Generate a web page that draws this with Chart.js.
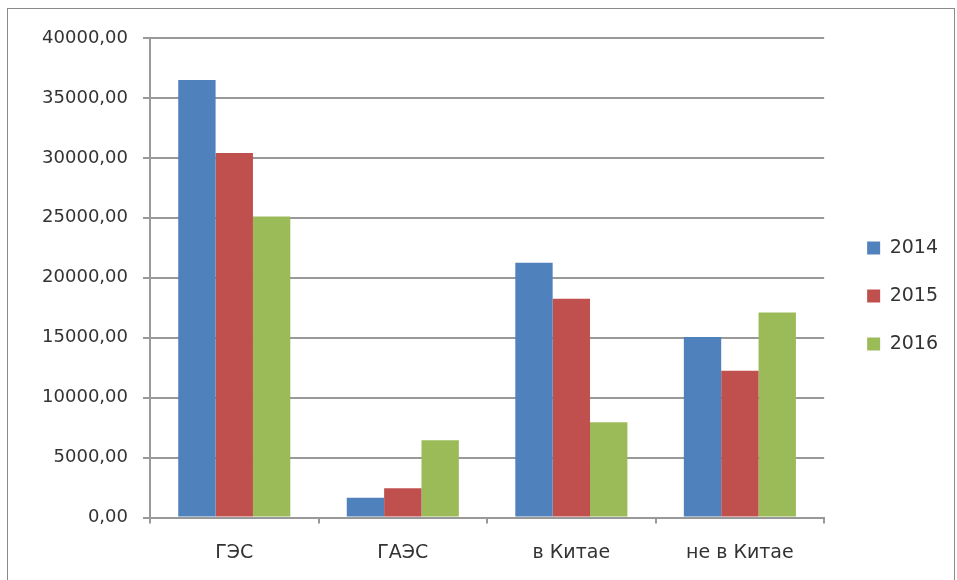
<!DOCTYPE html>
<html>
<head>
<meta charset="utf-8">
<script src="https://cdn.jsdelivr.net/npm/chart.js@4"></script>
<style>
body { margin: 0; background: #fff; }
#wrap { width: 957px; height: 580px; }
</style>
</head>
<body>
<div id="wrap"><canvas id="chart_area" width="957" height="580"></canvas></div>
<script>
const categories = ["ГЭС", "ГАЭС", "в Китае", "не в Китае"];
const years = ["2014", "2015", "2016"];
const values2014 = [36500, 1650, 21250, 15050];
const values2015 = [30400, 2450, 18250, 12250];
const values2016 = [25100, 6450, 7950, 17100];
const colours = ["#4F81BD", "#C0504D", "#9BBB59"];

const gridColour = "#999999";
const textColour = "#333333";

// grey frame round the whole chart, like the Excel chart area
const framePlugin = {
    id: "frame",
    beforeDraw: function(chart)
    {
        const ctx = chart.ctx;
        ctx.save();
        ctx.fillStyle = "#ffffff";
        ctx.fillRect(0, 0, chart.width, chart.height);
        ctx.strokeStyle = "#8a8a8a";
        ctx.lineWidth = 1;
        ctx.strokeRect(7.5, 8.5, 947, 600);
        ctx.restore();
    }
};

const ctx = document.getElementById("chart_area").getContext("2d");
const myChart = new Chart(ctx, {
    type: "bar",
    data: {
        labels: categories,
        datasets: [
            { label: years[0], data: values2014, backgroundColor: colours[0], borderWidth: 0 },
            { label: years[1], data: values2015, backgroundColor: colours[1], borderWidth: 0 },
            { label: years[2], data: values2016, backgroundColor: colours[2], borderWidth: 0 }
        ]
    },
    options: {
        responsive: false,
        animation: false,
        categoryPercentage: 0.665,
        barPercentage: 1.0,
        layout: {
            padding: { left: 0, top: 12, right: 9, bottom: 0 }
        },
        scales: {
            x: {
                offset: true,
                afterFit: function(scale) { scale.height = 62.5; },
                grid: {
                    display: true,
                    drawOnChartArea: false,
                    drawTicks: true,
                    tickLength: 6,
                    color: gridColour,
                    lineWidth: 2,
                    offset: true
                },
                border: { display: true, color: gridColour, width: 2 },
                ticks: {
                    color: textColour,
                    padding: 18,
                    maxRotation: 0,
                    font: { family: "DejaVu Sans", size: 19 }
                }
            },
            y: {
                min: 0,
                max: 40000,
                afterFit: function(scale) { scale.width = 150; },
                grid: {
                    color: gridColour,
                    lineWidth: 2,
                    tickLength: 7
                },
                border: { display: true, color: gridColour, width: 2 },
                ticks: {
                    stepSize: 5000,
                    color: textColour,
                    padding: 15,
                    font: { family: "DejaVu Sans", size: 18 },
                    callback: function(value) { return value.toFixed(2).replace(".", ","); }
                }
            },
            // empty spacer between plot area and legend
            pad: {
                type: "linear",
                position: "right",
                display: true,
                afterFit: function(scale) { scale.width = 14; },
                grid: { display: false },
                border: { display: false },
                ticks: { display: false }
            }
        },
        plugins: {
            // blank title only used to push the plot area down
            title: {
                display: true,
                text: " ",
                font: { size: 10 },
                padding: { top: 14, bottom: 0 }
            },
            legend: {
                display: true,
                position: "right",
                labels: {
                    boxWidth: 13,
                    boxHeight: 13,
                    padding: 29,
                    color: textColour,
                    font: { family: "DejaVu Sans", size: 19 }
                }
            },
            tooltip: { enabled: false }
        }
    },
    plugins: [framePlugin]
});
</script>
</body>
</html>
